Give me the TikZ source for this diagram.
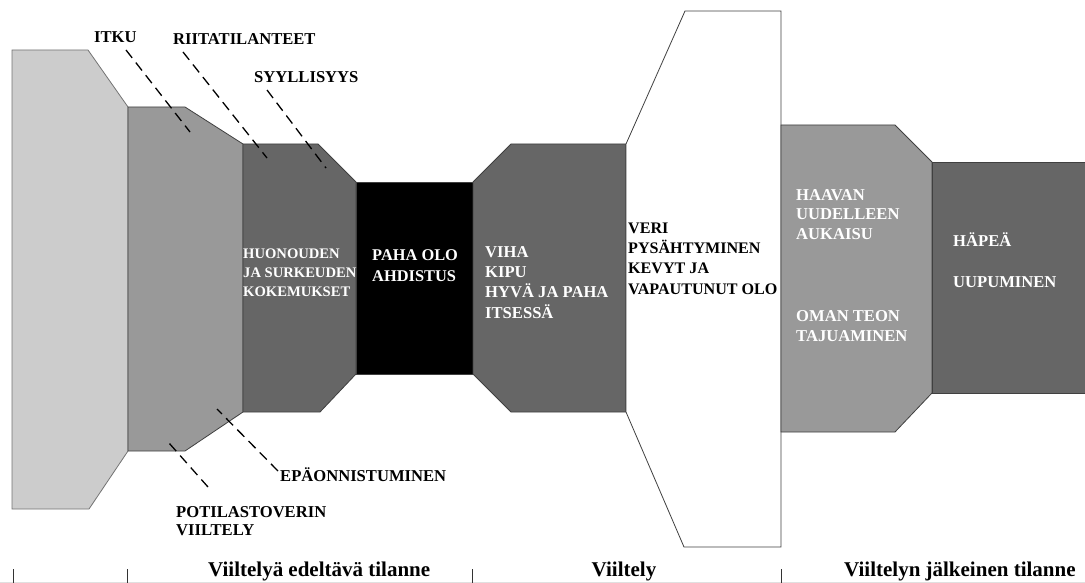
\documentclass[tikz,border=0pt]{standalone}
\usepackage{fontspec}
\setmainfont{Liberation Serif}
\usetikzlibrary{positioning}

\begin{document}
\begin{tikzpicture}[x=1pt,y=-1pt,
  stage/.style={draw=black!75,line width=0.8pt},
  lbl/.style={inner sep=0pt,align=left,font=\bfseries\fontsize{16.6}{19.5}\selectfont},
  inlbl/.style={lbl,text=white},
  lead/.style={dash pattern=on 10pt off 6pt,line width=1.3pt},
  phase/.style={inner sep=0pt,font=\bfseries\fontsize{21}{24}\selectfont}]
  \clip (0,0) rectangle (1085,583);

  % the stages, left to right
  \draw[stage,draw=black!55,fill=black!20] (12,50) -- (88,50) -- (128,107) -- (128,451) -- (89,509) -- (12,509) -- cycle;
  \draw[stage,fill=black!40] (128,107) -- (185,107) -- (243,144) -- (243,412) -- (185,451) -- (128,451) -- cycle;
  \draw[stage,fill=black!60] (243,144) -- (318,144) -- (356,182) -- (356,374) -- (320,412) -- (243,412) -- cycle;
  \draw[stage,fill=black] (356,182) rectangle (473,374);
  \draw[stage,fill=black!60] (473,182) -- (511,144) -- (626,144) -- (626,412) -- (511,412) -- (473,374) -- cycle;
  \draw[stage,fill=white] (626,144) -- (685,11) -- (781,11) -- (781,547) -- (684,547) -- (626,412) -- cycle;
  \draw[stage,fill=black!40] (781,125) -- (895,125) -- (932,162) -- (932,393) -- (895,432) -- (781,432) -- cycle;
  \draw[stage,fill=black!60] (932,162) rectangle (1095,393);

  % texts inside
  \node[inlbl,anchor=north west,font=\bfseries\fontsize{14.6}{18.7}\selectfont] (huono) at (243,249) {HUONOUDEN\\JA SURKEUDEN\\KOKEMUKSET};
  \node[inlbl,anchor=north west,font=\bfseries\fontsize{16.4}{21}\selectfont] (paha) at (372,249) {PAHA OLO\\AHDISTUS};
  \node[inlbl,anchor=north west,font=\bfseries\fontsize{16.6}{20.3}\selectfont] (viha) at (485,246) {VIHA\\KIPU\\HYVÄ JA PAHA\\ITSESSÄ};
  \node[lbl,anchor=north west,font=\bfseries\fontsize{16.1}{20.1}\selectfont] (veri) at (628,223) {VERI\\PYSÄHTYMINEN\\KEVYT JA\\VAPAUTUNUT OLO};
  \node[inlbl,anchor=north west] (haava) at (796,189) {HAAVAN\\UUDELLEEN\\AUKAISU};
  \node[inlbl,below=71pt of haava.south west,anchor=north west] (teko) {OMAN TEON\\TAJUAMINEN};
  \node[inlbl,anchor=base west] (hapea) at (953,247) {HÄPEÄ};
  \node[inlbl,anchor=base west] (uupu) at (953,287) {UUPUMINEN};

  % texts outside with leads
  \node[lbl,anchor=north west] (itku) at (94,31) {ITKU};
  \node[lbl,anchor=north west] (riita) at (173,33) {RIITATILANTEET};
  \node[lbl,anchor=north west] (syyl) at (254,71) {SYYLLISYYS};
  \node[lbl,anchor=base west] (epaon) at (280,481) {EPÄONNISTUMINEN};
  \node[lbl,anchor=north west,font=\bfseries\fontsize{16.6}{18}\selectfont] (potila) at (176,506) {POTILASTOVERIN\\VIILTELY};
  \coordinate (itku-a) at (126,50);   \coordinate (itku-b) at (190,132);
  \coordinate (riita-a) at (183,52);  \coordinate (riita-b) at (267,158);
  \coordinate (syyl-a) at (267,90);   \coordinate (syyl-b) at (326,168);
  \coordinate (potila-a) at (208,487); \coordinate (potila-b) at (169,443);
  \coordinate (epaon-a) at (278,471); \coordinate (epaon-b) at (217,409);
  \draw[lead] (itku-a) -- (itku-b);
  \draw[lead] (riita-a) -- (riita-b);
  \draw[lead] (syyl-a) -- (syyl-b);
  \draw[lead] (potila-a) -- (potila-b);
  \draw[lead] (epaon-a) -- (epaon-b);

  % phases
  \draw[black!12] (0,582) -- (1085,582);
  \foreach \x in {13,127,472,781}
    \draw[black!80,line width=0.8pt] (\x,569) -- (\x,583);
  \node[phase,anchor=base west] (pre) at (208,576.6) {Viiltelyä edeltävä tilanne};
  \node[phase,anchor=base] (cut) at (624,576.6) {Viiltely};
  \node[phase,anchor=base west] (post) at (844,576.6) {Viiltelyn jälkeinen tilanne};
\end{tikzpicture}
\end{document}
